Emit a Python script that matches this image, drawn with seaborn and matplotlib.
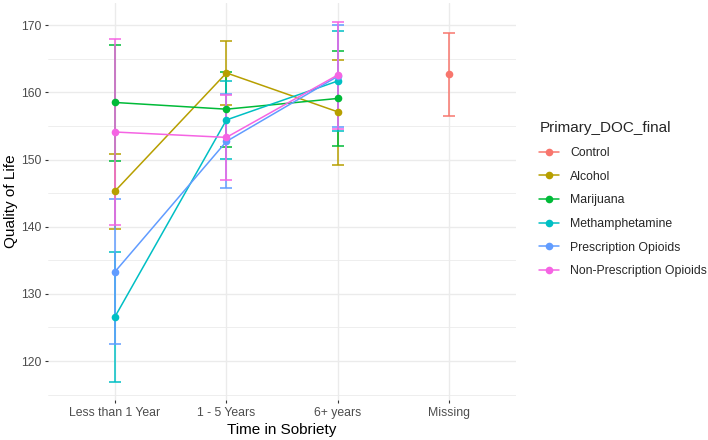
import numpy as np
import pandas as pd
import seaborn as sns
import matplotlib.pyplot as plt
from matplotlib.lines import Line2D

sns.set_theme(style="whitegrid")
plt.rcParams["font.family"] = ["Liberation Sans", "DejaVu Sans"]

# time categories on the x axis
time_levels = ["Less than 1 Year", "1 - 5 Years", "6+ years", "Missing"]

groups = ["Control", "Alcohol", "Marijuana", "Methamphetamine",
          "Prescription Opioids", "Non-Prescription Opioids"]
colors = ["#F8766D", "#B79F00", "#00BA38", "#00BFC4", "#619CFF", "#F564E3"]

# mean quality of life + error bar limits, per group
control_time = ["Missing"]
control_mean = [162.8]
control_lo = [156.5]
control_hi = [168.9]

drug_time = ["Less than 1 Year", "1 - 5 Years", "6+ years"]

alcohol_mean = [145.3, 162.9, 157.1]
alcohol_lo = [139.6, 158.1, 149.2]
alcohol_hi = [150.9, 167.6, 164.8]

marijuana_mean = [158.5, 157.5, 159.1]
marijuana_lo = [149.8, 151.9, 152.0]
marijuana_hi = [167.1, 163.0, 166.2]

meth_mean = [126.6, 155.9, 161.7]
meth_lo = [116.9, 150.1, 154.3]
meth_hi = [136.3, 161.7, 169.1]

rx_mean = [133.3, 152.7, 162.4]
rx_lo = [122.6, 145.7, 154.8]
rx_hi = [144.1, 159.7, 170.0]

nonrx_mean = [154.1, 153.3, 162.6]
nonrx_lo = [140.3, 146.9, 154.6]
nonrx_hi = [168.0, 159.6, 170.5]

rows = []
series = [
    ("Control", control_time, control_mean, control_lo, control_hi),
    ("Alcohol", drug_time, alcohol_mean, alcohol_lo, alcohol_hi),
    ("Marijuana", drug_time, marijuana_mean, marijuana_lo, marijuana_hi),
    ("Methamphetamine", drug_time, meth_mean, meth_lo, meth_hi),
    ("Prescription Opioids", drug_time, rx_mean, rx_lo, rx_hi),
    ("Non-Prescription Opioids", drug_time, nonrx_mean, nonrx_lo, nonrx_hi),
]
for name, times, m, lo, hi in series:
    for t, a, b, c in zip(times, m, lo, hi):
        rows.append({"group": name, "time": t, "pos": time_levels.index(t),
                     "mean": a, "lo": b, "hi": c})
df = pd.DataFrame(rows)

palette = dict(zip(groups, colors))

fig = plt.figure(figsize=(7.08, 4.4), dpi=100)
ax = fig.add_axes([0.068, 0.091, 0.661, 0.902])
ax.set_facecolor("white")

# error bars first
for g in groups:
    d = df[df["group"] == g]
    ax.errorbar(d["pos"], d["mean"], yerr=[d["mean"] - d["lo"], d["hi"] - d["mean"]],
                fmt="none", ecolor=palette[g], elinewidth=1.1, capsize=4.0,
                capthick=1.1, zorder=2)

sns.lineplot(data=df, x="pos", y="mean", hue="group", hue_order=groups,
             palette=palette, marker="o", markersize=5.5, markeredgewidth=0,
             linewidth=1.1, sort=True, legend=False, ax=ax, zorder=3)

ax.set_xlim(-0.6, 3.6)
ax.set_ylim(114.2, 173.3)
ax.set_xticks(range(len(time_levels)))
ax.set_xticklabels(time_levels)
ax.set_yticks([120, 130, 140, 150, 160, 170])
ax.set_yticks([115, 125, 135, 145, 155, 165], minor=True)

ax.grid(which="major", color="#EBEBEB", linewidth=1.0)
ax.grid(which="minor", axis="y", color="#EBEBEB", linewidth=0.6)
ax.grid(which="minor", axis="x", visible=False)
for s in ax.spines.values():
    s.set_visible(False)
ax.tick_params(axis="both", which="major", length=2.5, width=0.8, color="#333333",
               labelsize=8.8, labelcolor="#4D4D4D", pad=2.5, bottom=True, left=True)
ax.tick_params(axis="both", which="minor", length=0)

ax.set_xlabel("Time in Sobriety", fontsize=11, color="black", labelpad=3)
ax.set_ylabel("Quality of Life", fontsize=11, color="black", labelpad=2)

handles = [Line2D([], [], color=c, marker="o", markersize=5.5, markeredgewidth=0,
                  linewidth=1.1) for c in colors]
leg = fig.legend(handles, groups, title="Primary_DOC_final", loc="upper left",
                 bbox_to_anchor=(0.755, 0.735), frameon=False, fontsize=8.8,
                 title_fontsize=11, handlelength=1.6, labelspacing=0.95,
                 handletextpad=0.9, borderaxespad=0)
leg._legend_box.align = "left"

fig.savefig("out.png", dpi=100)
